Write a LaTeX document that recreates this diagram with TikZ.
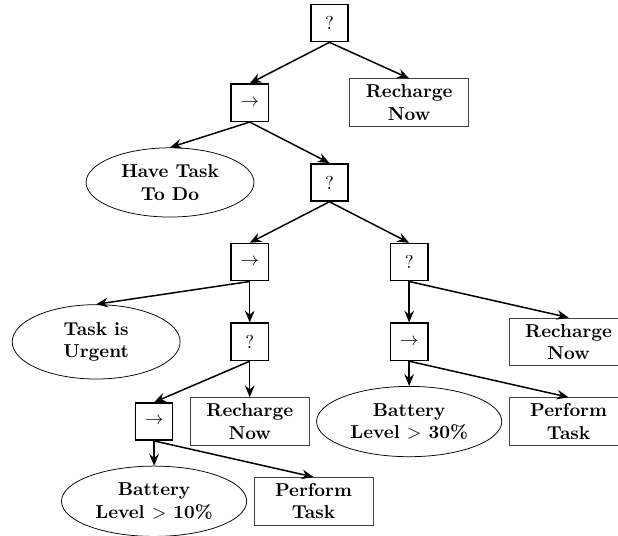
\documentclass[tikz,border=0pt]{standalone}
\usepackage{amsmath,amssymb}
\usepackage{tikz}
\usetikzlibrary{arrows.meta, positioning, shapes.geometric}

\begin{document}
\begin{tikzpicture}[
  ctrl/.style={rectangle, draw, thick, minimum size=0.7cm, inner sep=1pt},
  action/.style={rectangle, draw=black!75, minimum width=2.24cm,
                 minimum height=0.9cm, align=center, font=\bfseries, inner sep=2pt},
  cond/.style={ellipse, draw, align=center, font=\bfseries, inner sep=3.6pt,
               minimum width=3.16cm, minimum height=1.3cm},
  arrow/.style={-{Stealth[length=2.2mm,width=1.8mm]}, thick}]

  \useasboundingbox (-6.20,0.433) rectangle (5.43,-9.636);

  \node[ctrl]   (S1) at (0,0)      {?};
  \node[ctrl]   (Q1) at (-1.5,-1.5) {$\rightarrow$};
  \node[action] (R1) at (1.5,-1.5)  {Recharge\\Now};
  \node[cond]   (C1) at (-3.0,-3.0) {Have Task\\To Do};
  \node[ctrl]   (S2) at (0,-3.0)    {?};
  \node[ctrl]   (Q2) at (-1.5,-4.5) {$\rightarrow$};
  \node[ctrl]   (S3) at (1.5,-4.5)  {?};
  \node[cond]   (C2) at (-4.39,-6.0) {Task is\\Urgent};
  \node[ctrl]   (S4) at (-1.5,-6.0) {?};
  \node[ctrl]   (Q3) at (1.5,-6.0)  {$\rightarrow$};
  \node[action] (R3) at (4.5,-6.0)  {Recharge\\Now};
  \node[ctrl]   (Q4) at (-3.3,-7.5) {$\rightarrow$};
  \node[action] (R2) at (-1.5,-7.5) {Recharge\\Now};
  \node[cond]   (C3) at (1.5,-7.5)  {Battery\\Level $>$ 30\%};
  \node[action] (P1) at (4.5,-7.5)  {Perform\\Task};
  \node[cond]   (C4) at (-3.3,-9.0) {Battery\\Level $>$ 10\%};
  \node[action] (P2) at (-0.3,-9.0) {Perform\\Task};

  \draw[arrow] (S1.south) -- (Q1.north);
  \draw[arrow] (S1.south) -- (R1.north);
  \draw[arrow] (Q1.south) -- (C1.north);
  \draw[arrow] (Q1.south) -- (S2.north);
  \draw[arrow] (S2.south) -- (Q2.north);
  \draw[arrow] (S2.south) -- (S3.north);
  \draw[arrow] (Q2.south) -- (C2.north);
  \draw[arrow] (Q2.south) -- (S4.north);
  \draw[arrow] (S3.south) -- (Q3.north);
  \draw[arrow] (S3.south) -- (R3.north);
  \draw[arrow] (S4.south) -- (Q4.north);
  \draw[arrow] (S4.south) -- (R2.north);
  \draw[arrow] (Q3.south) -- (C3.north);
  \draw[arrow] (Q3.south) -- (P1.north);
  \draw[arrow] (Q4.south) -- (C4.north);
  \draw[arrow] (Q4.south) -- (P2.north);
\end{tikzpicture}
\end{document}
